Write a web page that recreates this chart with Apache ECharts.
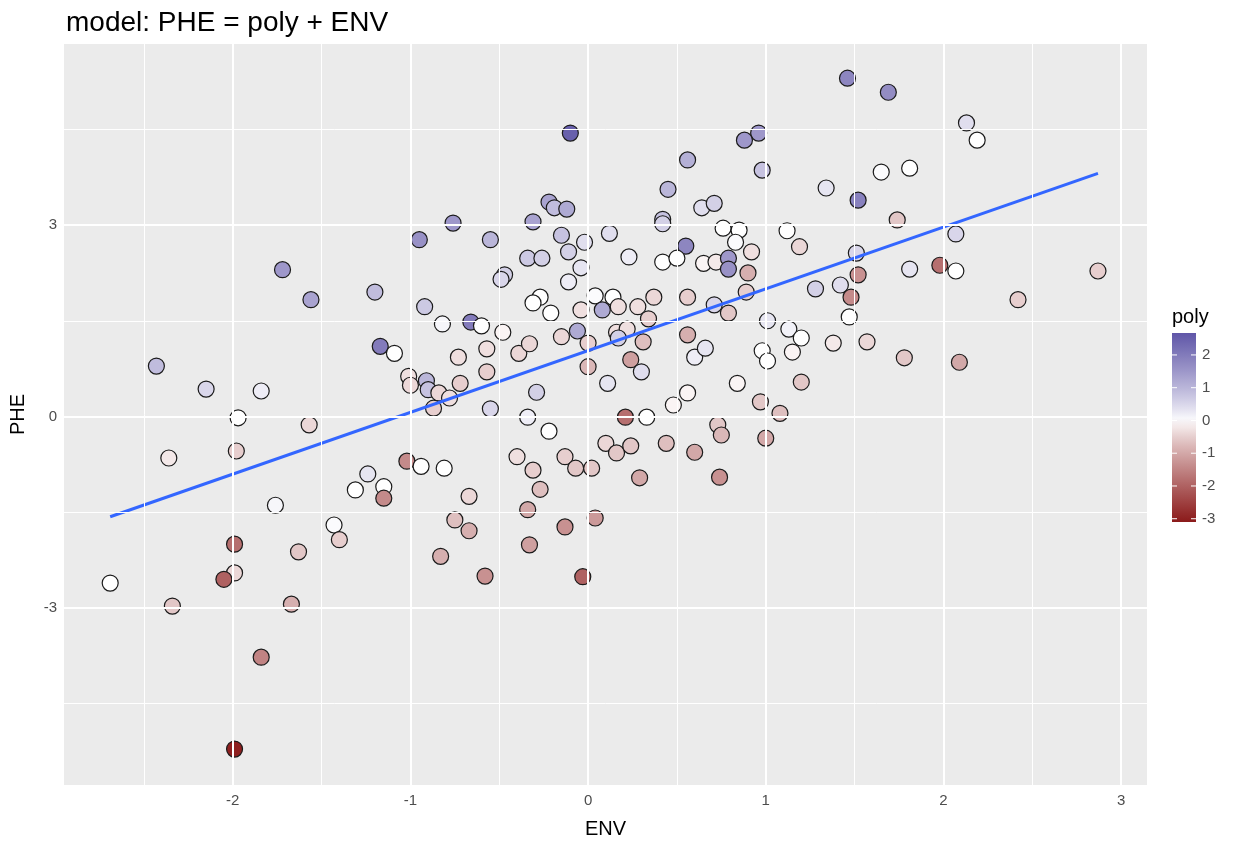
<!DOCTYPE html>
<html>
<head>
<meta charset="utf-8">
<script src="https://cdn.jsdelivr.net/npm/echarts@6.0.0/dist/echarts.min.js"></script>
<style>
  html, body { margin: 0; padding: 0; background: #fff; }
  #chart { width: 1252px; height: 844px; }
</style>
</head>
<body>
<div id="chart"></div>
<script>
// values
const env = [
  1.46, 1.69, -0.10, 2.13, 2.19, 0.96, 0.88, 0.56, 0.98, 1.65,
  1.81, 1.34, 1.52, 0.45, 0.64, 0.71, -0.22, -0.19, -0.12, -0.31,
  -0.76, -0.95, -0.55, -0.15, -0.02, 0.12, -0.11, -0.34, -0.26, -0.04,
  -0.47, -0.49, -0.11, -0.27, 0.04, -1.20, -1.56, -1.72, 0.42, 0.42,
  0.23, 0.55, 0.42, 0.50, 0.65, 0.72, 0.79, 0.79, 0.76, 0.85,
  0.83, 0.92, 0.90, 1.12, 1.19, 1.51, 1.52, 1.28, 1.42, 1.48,
  0.37, 0.56, 0.89, 1.74, 2.07, 1.81, 1.98, 2.07, 2.87, 2.42,
  1.78, 2.09, 1.57, -2.43, -2.15, -1.84, -1.97, -1.57, -2.36, -1.98,
  -1.76, -1.43, -1.40, -1.99, -1.63, -2.69, -1.99, -2.05, -2.34, -1.67,
  -1.84, -1.99, -0.83, -0.58, -0.33, -0.03, -0.92, -0.82, -0.66, -0.60,
  -0.48, -1.17, -1.09, -0.73, -0.57, -0.57, -0.39, -0.33, -0.15, -0.06,
  0.00, 0.00, 0.11, -0.31, -0.21, -0.04, 0.08, -1.01, -1.00, -0.91,
  -0.90, -0.84, -0.78, -0.72, -0.87, -0.29, -0.55, -0.34, -0.22, -1.02,
  -0.94, -0.81, -1.24, -1.31, -1.15, -1.15, -0.67, -0.40, -0.31, -0.27,
  -0.13, -0.07, 0.02, -0.75, -0.67, -0.34, -0.13, 0.04, 0.14, 0.17,
  0.28, 0.34, 0.16, 0.22, 0.17, 0.31, 0.56, 0.71, 0.79,
  1.47, 1.01, 1.13, 1.20, 1.15, 1.38, 0.24, 0.30, 0.60, 0.66,
  0.98, 1.01, 0.84, 1.20, 0.48, 0.56, 0.97, 1.08, 0.21, 0.33,
  0.73, 0.75, 1.00, 0.10, 0.16, 0.24, 0.44, 0.60, 0.29, 0.74
]
const phe = [
  5.30, 5.08, 4.44, 4.60, 4.33, 4.44, 4.33, 4.02, 3.86, 3.83,
  3.89, 3.58, 3.39, 3.56, 3.27, 3.34, 3.36, 3.27, 3.25, 3.05,
  3.03, 2.77, 2.77, 2.84, 2.73, 2.87, 2.58, 2.48, 2.48, 2.33,
  2.22, 2.15, 2.11, 1.87, 1.89, 1.95, 1.83, 2.30, 3.09, 3.02,
  2.50, 2.67, 2.42, 2.48, 2.40, 2.42, 2.48, 2.31, 2.95, 2.92,
  2.73, 2.58, 2.25, 2.91, 2.66, 2.56, 2.22, 2.00, 2.06, 1.87,
  1.87, 1.87, 1.95, 3.08, 2.86, 2.31, 2.37, 2.28, 2.28, 1.83,
  0.92, 0.85, 1.17, 0.79, 0.43, 0.40, -0.02, -0.13, -0.65, -0.54,
  -1.39, -1.70, -1.93, -2.00, -2.12, -2.61, -2.45, -2.55, -2.97, -2.94,
  -3.77, -5.21, -2.19, -2.50, -2.01, -2.51, 1.72, 1.45, 1.48, 1.42,
  1.32, 1.10, 0.99, 0.93, 1.06, 0.70, 0.99, 1.14, 1.25, 1.34,
  1.15, 0.78, 0.52, 1.78, 1.62, 1.67, 1.67, 0.63, 0.49, 0.56,
  0.42, 0.37, 0.29, 0.52, 0.13, 0.38, 0.12, -0.01, -0.23, -0.70,
  -0.78, -0.81, -0.90, -1.15, -1.10, -1.28, -1.25, -0.63, -0.84, -1.14,
  -0.63, -0.81, -0.81, -1.62, -1.79, -1.46, -1.73, -1.59, 1.87, 1.72,
  1.72, 1.53, 1.32, 1.37, 1.23, 1.17, 1.28, 1.75, 1.62,
  1.56, 1.50, 1.37, 1.23, 1.01, 1.15, 0.89, 0.70, 0.93, 1.07,
  1.03, 0.87, 0.52, 0.54, 0.18, 0.37, 0.23, 0.05, -0.01, -0.01,
  -0.13, -0.29, -0.34, -0.42, -0.57, -0.46, -0.42, -0.56, -0.96, -0.95
]
const poly = [
  1.8, 1.7, 2.5, 0.4, 0.0, 1.5, 1.5, 1.1, 0.8, 0.05,
  0.0, 0.3, 1.9, 1.0, 0.4, 0.6, 1.3, 0.9, 1.2, 1.3,
  1.5, 1.6, 1.0, 0.8, 0.4, 0.4, 0.6, 0.7, 0.6, 0.3,
  0.6, 0.5, 0.2, 0.0, 0.05, 0.9, 1.3, 1.5, 0.8, 0.6,
  0.2, 1.8, 0.0, 0.0, -0.1, -0.2, 1.5, 1.6, 0.0, 0.0,
  0.05, -0.3, -0.9, 0.0, -0.4, 0.5, -1.3, 0.6, 0.4, -1.4,
  -0.4, -0.5, -0.5, -0.6, 0.5, 0.3, -1.8, 0.0, -0.5, -0.5,
  -0.6, -1.0, -0.4, 0.9, 0.5, 0.2, 0.0, -0.4, -0.2, -0.5,
  0.1, 0.05, -0.5, -1.8, -0.6, 0.0, -0.4, -2.0, -0.6, -0.9,
  -1.5, -3.0, -0.9, -1.3, -1.1, -2.0, 0.7, 0.1, 2.0, 0.0,
  -0.1, 2.0, 0.0, -0.3, -0.3, -0.5, -0.4, -0.4, -0.4, 1.2,
  -0.5, -0.8, 0.3, 0.0, 0.0, -0.3, 1.2, -0.3, -0.4, 1.0,
  0.8, -0.4, -0.3, -0.5, -0.5, 0.6, 0.5, 0.2, 0.0, -1.4,
  0.0, 0.0, 0.3, 0.0, 0.0, -1.4, -0.4, -0.3, -0.5, -0.7,
  -0.5, -0.6, -0.6, -0.7, -0.9, -1.0, -1.3, -1.2, 0.0, -0.3,
  -0.3, -0.5, -0.3, -0.3, 0.6, -0.7, -0.9, 0.5, -0.6,
  0.0, 0.3, 0.15, 0.0, -0.1, -0.2, -1.1, 0.4, 0.2, 0.3,
  0.0, 0.0, -0.1, -0.6, -0.1, -0.1, -0.6, -0.7, -1.8, 0.0,
  -0.6, -0.8, -1.0, -0.4, -0.6, -0.6, -0.7, -1.0, -1.0, -1.3
]
// fitted line PHE ~ ENV, ends
const fitEnv = [-2.69, 2.87]
const fitPhe = [-1.57, 3.81]

const xTicks = [-2, -1, 0, 1, 2, 3]
const xMinor = [-2.5, -1.5, -0.5, 0.5, 1.5, 2.5]
const yTicks = [-3, 0, 3]
const yMinor = [-4.5, -1.5, 1.5, 4.5]
const polyTicks = [2, 1, 0, -1, -2, -3]

const FONT = '"Liberation Sans", Arial, sans-serif'
const LOW = [139, 26, 26]
const HIGH = [74, 63, 156]
const POLY_LIM = 3.1            // fill scale is symmetric round 0
const BAR_RANGE = [-3.1, 2.67]  // range shown in the colourbar

// white -> end colour, eased a little so mid tones are not washed out
function polyColor (v) {
  const end = v < 0 ? LOW : HIGH
  const t = Math.pow(Math.min(Math.abs(v) / POLY_LIM, 1), 0.85)
  const c = end.map(e => Math.round(255 + (e - 255) * t))
  return 'rgb(' + c.join(',') + ')'
}

// colour ramp handed to the visualMap, sampled from the same function
const RAMP_STEPS = 24
const ramp = []
for (let i = 0; i <= RAMP_STEPS; i++) ramp.push(polyColor(-POLY_LIM + 2 * POLY_LIM * i / RAMP_STEPS))

const points = env.map((x, i) => [x, phe[i], poly[i]])
const fit = fitEnv.map((x, i) => [x, fitPhe[i]])

// colourbar, drawn by hand so it can carry ggplot-like ticks
const bar = { x: 1172, y: 333, w: 24, h: 189 }
const barSpan = BAR_RANGE[1] - BAR_RANGE[0]
const barY = v => bar.y + (BAR_RANGE[1] - v) / barSpan * bar.h
const barStops = []
for (let i = 0; i <= 20; i++) {
  const v = BAR_RANGE[1] - barSpan * i / 20
  barStops.push({ offset: i / 20, color: polyColor(v) })
}
const legend = [
  {
    type: 'text', left: bar.x, top: bar.y - 26,
    style: { text: 'poly', font: '20px ' + FONT, fill: '#000' }
  },
  {
    type: 'rect', shape: { x: bar.x, y: bar.y, width: bar.w, height: bar.h },
    style: { fill: new echarts.graphic.LinearGradient(0, 0, 0, 1, barStops) }
  }
]
polyTicks.forEach(v => {
  const y = barY(v)
  legend.push(
    { type: 'line', shape: { x1: bar.x, y1: y, x2: bar.x + 5, y2: y }, style: { stroke: '#fff', lineWidth: 1 } },
    { type: 'line', shape: { x1: bar.x + bar.w - 5, y1: y, x2: bar.x + bar.w, y2: y }, style: { stroke: '#fff', lineWidth: 1 } },
    {
      type: 'text', x: bar.x + bar.w + 6, y: y,
      style: { text: String(v), font: '15px ' + FONT, fill: '#4d4d4d', verticalAlign: 'middle' }
    }
  )
})

const gridLines = xMinor.map(v => ({ xAxis: v, lineStyle: { width: 1 } }))
  .concat(yMinor.map(v => ({ yAxis: v, lineStyle: { width: 1 } })))
  .concat(xTicks.map(v => ({ xAxis: v, lineStyle: { width: 2 } })))
  .concat(yTicks.map(v => ({ yAxis: v, lineStyle: { width: 2 } })))

const chart = echarts.init(document.getElementById('chart'))
chart.setOption({
  animation: false,
  backgroundColor: '#fff',
  title: {
    text: 'model: PHE = poly + ENV',
    left: 61, top: 4,
    textStyle: { fontFamily: FONT, fontSize: 28, fontWeight: 'normal', color: '#000' }
  },
  grid: {
    left: 62, top: 44, right: 105, bottom: 59,
    show: true, backgroundColor: '#ebebeb', borderWidth: 0
  },
  xAxis: {
    type: 'value', min: -2.95, max: 3.146,
    name: 'ENV', nameLocation: 'middle', nameGap: 34,
    nameTextStyle: { fontFamily: FONT, fontSize: 20, color: '#000' },
    axisLine: { show: false },
    axisTick: { show: true, length: 4, lineStyle: { color: '#333' }, customValues: xTicks },
    axisLabel: { fontFamily: FONT, fontSize: 15, color: '#4d4d4d', margin: 8, customValues: xTicks },
    splitLine: { show: false }
  },
  yAxis: {
    type: 'value', min: -5.773, max: 5.836,
    name: 'PHE', nameLocation: 'middle', nameGap: 36, nameRotate: 90,
    nameTextStyle: { fontFamily: FONT, fontSize: 20, color: '#000' },
    axisLine: { show: false },
    axisTick: { show: true, length: 4, lineStyle: { color: '#333' }, customValues: yTicks },
    axisLabel: { fontFamily: FONT, fontSize: 15, color: '#4d4d4d', margin: 7, customValues: yTicks },
    splitLine: { show: false }
  },
  visualMap: {
    show: false, type: 'continuous', seriesIndex: 1, dimension: 2,
    min: -POLY_LIM, max: POLY_LIM,
    inRange: { color: ramp }
  },
  graphic: legend,
  series: [
    {
      // panel grid lines
      type: 'scatter', data: [], z: 1, silent: true,
      markLine: {
        symbol: 'none', silent: true, animation: false,
        label: { show: false },
        lineStyle: { color: '#fff', type: 'solid' },
        data: gridLines
      }
    },
    {
      type: 'scatter', data: points, z: 3,
      symbol: 'circle', symbolSize: 16,
      itemStyle: { borderColor: '#1a1a1a', borderWidth: 1.2, opacity: 1 }
    },
    {
      type: 'line', data: fit, z: 4,
      symbol: 'none', silent: true,
      lineStyle: { color: '#3366ff', width: 3 }
    }
  ]
})
</script>
</body>
</html>
